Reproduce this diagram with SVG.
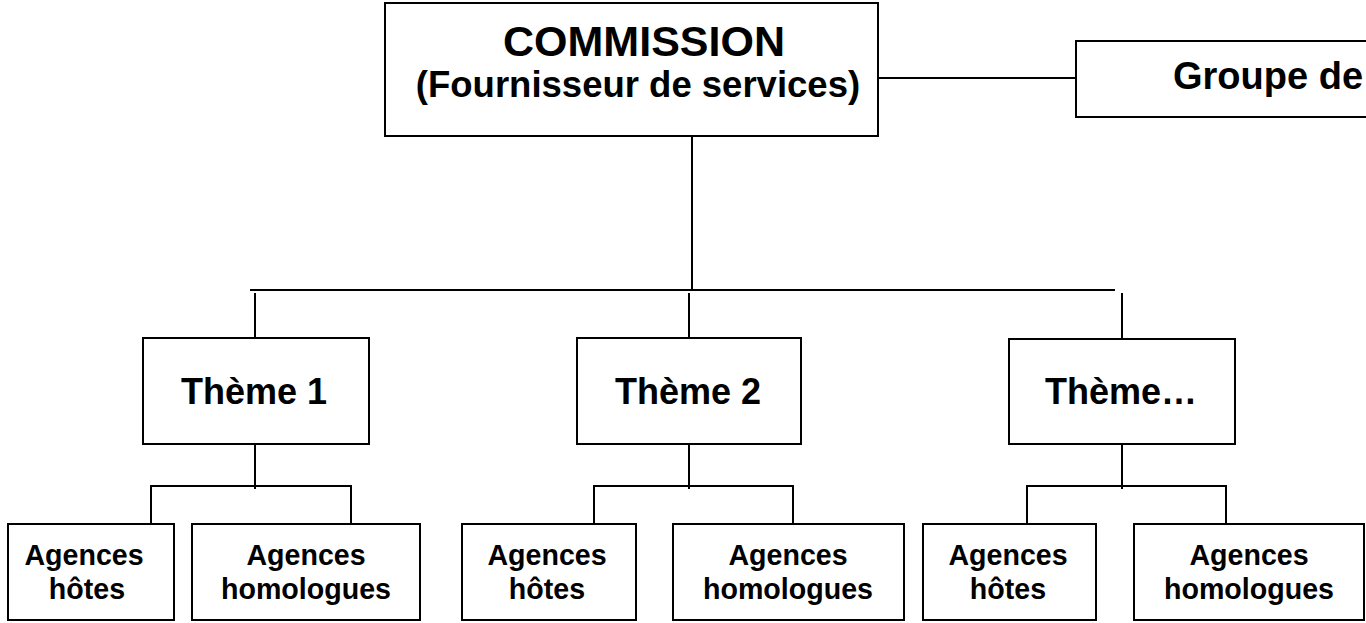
<svg xmlns="http://www.w3.org/2000/svg" width="1366" height="623" viewBox="0 0 1366 623">
<style>
.box{fill:#fff;stroke:#000;stroke-width:2}
.ln{stroke:#000;stroke-width:2;fill:none}
text{font-family:"Liberation Sans",Arial,sans-serif;font-weight:bold;fill:#000;text-anchor:middle}
.t1{font-size:43px}
.t2{font-size:36.5px}
.t3{font-size:36px}
.t4{font-size:28.6px}
</style>
<rect width="1366" height="623" fill="#fff"/>
<g id="connectors">
<path class="ln" d="M692 136V290M250 290H1115M878 78H1076"/>
<path class="ln" d="M255 293V338M689 293V338M1122 293V339"/>
<path class="ln" d="M255 444V489M689 444V489M1122 444V489"/>
<path class="ln" d="M151 524V486H351V524M594 524V486H793V524M1027 524V486H1226V524"/>
</g>
<g id="commission">
<rect class="box" x="385" y="3" width="493" height="133"/>
<text class="t1" x="644" y="56">COMMISSION</text>
<text class="t2" x="638" y="97">(Fournisseur de services)</text>
</g>
<g id="groupe">
<rect class="box" x="1076" y="41" width="320" height="76"/>
<text class="t3" x="1173" y="89" style="text-anchor:start;font-size:38px">Groupe de</text>
</g>
<g id="theme1">
<rect class="box" x="143" y="338" width="226" height="106"/>
<text class="t3" x="254" y="404">Thème 1</text>
</g>
<g id="theme2">
<rect class="box" x="577" y="338" width="224" height="106"/>
<text class="t3" x="688" y="404">Thème 2</text>
</g>
<g id="theme3">
<rect class="box" x="1009" y="339" width="226" height="105"/>
<text class="t3" x="1121" y="404">Thème…</text>
</g>
<g id="hotes1">
<rect class="box" x="8" y="524" width="166" height="96"/>
<text class="t4" x="84" y="565">Agences</text>
<text class="t4" x="87" y="599">hôtes</text>
</g>
<g id="homologues1">
<rect class="box" x="192" y="524" width="228" height="96"/>
<text class="t4" x="306" y="565">Agences</text>
<text class="t4" x="306" y="599">homologues</text>
</g>
<g id="hotes2">
<rect class="box" x="462" y="524" width="174" height="96"/>
<text class="t4" x="547" y="565">Agences</text>
<text class="t4" x="547" y="599">hôtes</text>
</g>
<g id="homologues2">
<rect class="box" x="673" y="524" width="231" height="96"/>
<text class="t4" x="788" y="565">Agences</text>
<text class="t4" x="788" y="599">homologues</text>
</g>
<g id="hotes3">
<rect class="box" x="923" y="524" width="173" height="96"/>
<text class="t4" x="1008" y="565">Agences</text>
<text class="t4" x="1008" y="599">hôtes</text>
</g>
<g id="homologues3">
<rect class="box" x="1134" y="524" width="230" height="96"/>
<text class="t4" x="1249" y="565">Agences</text>
<text class="t4" x="1249" y="599">homologues</text>
</g>
</svg>
